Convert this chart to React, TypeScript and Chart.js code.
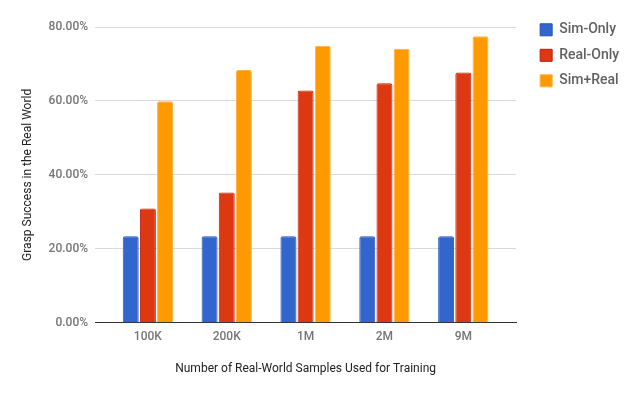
import React, { useEffect, useRef } from "react";
import { Chart, registerables } from "chart.js";

Chart.register(...registerables);

const categories = ["100K", "200K", "1M", "2M", "9M"];
const simOnly = [23.4, 23.4, 23.4, 23.4, 23.4];
const realOnly = [30.9, 35.2, 62.8, 64.8, 67.7];
const simReal = [59.9, 68.4, 74.9, 74.1, 77.5];
const yTicks = [0, 20, 40, 60, 80];
const seriesNames = ["Sim-Only", "Real-Only", "Sim+Real"];

const FONT = "Roboto, 'Noto Sans', Arial, sans-serif";

const legendShift = {
  id: "legendShift",
  afterLayout(chart: any) {
    const l = chart.legend;
    if (!l) return;
    l.left += 12.5;
    l.right += 12.5;
    l.top -= 15.7;
    l.bottom -= 15.7;
  },
};

export default function App() {
  const ref = useRef<HTMLCanvasElement | null>(null);

  useEffect(() => {
    if (!ref.current) return;
    const toPts = (arr: number[]) => arr.map((v, i) => ({ x: i, y: v }));
    const chart = new Chart(ref.current, {
      type: "bar",
      data: {
        datasets: [
          {
            label: seriesNames[0],
            data: toPts(simOnly),
            backgroundColor: "#3366cc",
            borderColor: "#2152b8",
            borderWidth: 1,
            borderRadius: 2,
          },
          {
            label: seriesNames[1],
            data: toPts(realOnly),
            backgroundColor: "#dc3912",
            borderColor: "#c41a08",
            borderWidth: 1,
            borderRadius: 2,
          },
          {
            label: seriesNames[2],
            data: toPts(simReal),
            backgroundColor: "#ff9900",
            borderColor: "#ffb040",
            borderWidth: 1,
            borderRadius: 2,
          },
        ],
      },
      options: {
        animation: false,
        responsive: false,
        maintainAspectRatio: false,
        datasets: {
          bar: { categoryPercentage: 0.653, barPercentage: 0.93 },
        },
        layout: { padding: { top: 27, right: 23.3, bottom: 0, left: 0 } },
        plugins: {
          tooltip: { enabled: false },
          legend: {
            position: "right",
            align: "start",
            labels: {
              boxWidth: 12,
              boxHeight: 12,
              padding: 11.5,
              color: "#616161",
              font: { family: FONT, size: 14, weight: "500" },
            },
          },
        },
        scales: {
          x: {
            type: "linear",
            offset: false,
            min: -0.67,
            max: 4.67,
            afterBuildTicks: (scale: any) => {
              scale.ticks = categories.map((_, i) => ({ value: i }));
            },
            grid: { display: false, drawTicks: false },
            border: { display: true, color: "#333333", width: 1 },
            ticks: {
              autoSkip: false,
              maxRotation: 0,
              padding: 7.5,
              color: "#757575",
              font: { family: FONT, size: 12, weight: "500" },
              callback: (v: any) => categories[v as number] ?? "",
            },
            title: {
              display: true,
              text: "Number of Real-World Samples Used for Training",
              color: "#222222",
              font: { family: FONT, size: 12 },
              padding: { top: 9.5, bottom: 20 },
            },
          },
          y: {
            min: 0,
            max: 80,
            afterBuildTicks: (scale: any) => {
              scale.ticks = yTicks.map((v) => ({ value: v }));
            },
            grid: {
              drawTicks: false,
              color: (c: any) => (c.tick && c.tick.value === 0 ? "#333333" : "#d9d9d9"),
            },
            border: { display: false },
            ticks: {
              padding: 7,
              color: "#757575",
              font: { family: FONT, size: 12, weight: "500" },
              callback: (v: any) => Number(v).toFixed(2) + "%",
            },
            title: {
              display: true,
              text: "Grasp Success in the Real World",
              color: "#222222",
              font: { family: FONT, size: 12 },
              padding: { top: 20.5, bottom: 6.7 },
            },
          },
        },
      },
      plugins: [legendShift],
    } as any);
    return () => chart.destroy();
  }, []);

  return (
    <div style={{ position: "fixed", left: 0, top: 0, width: 640, height: 396, background: "#fff" }}>
      <canvas ref={ref} width={640} height={396} style={{ display: "block" }} />
    </div>
  );
}
